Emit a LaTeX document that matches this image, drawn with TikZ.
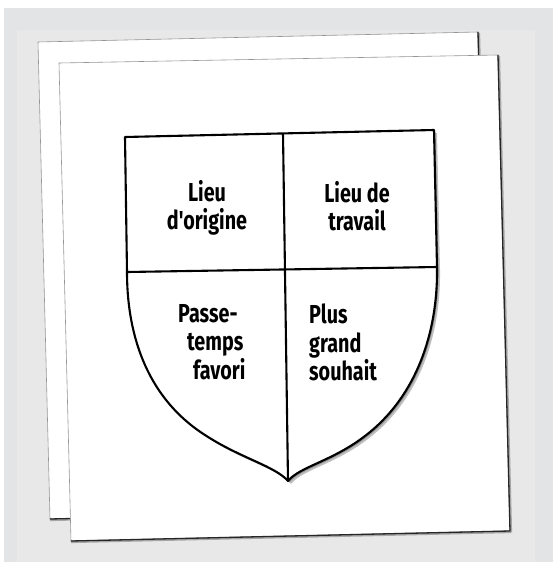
\documentclass[tikz,border=0pt]{standalone}
\usepackage{fontspec}
\newfontfamily\shieldfont[FakeStretch=0.76]{Fira Sans}
\usetikzlibrary{shadows}
\definecolor{bgouter}{RGB}{227,228,229}
\definecolor{bginner}{RGB}{232,232,233}
\definecolor{sheetline}{RGB}{150,150,150}
\tikzset{
	sheet/.style={fill=white, draw=sheetline, line width=0.6pt},
	sheetshade/.style={line width=2.6pt, black!35, line join=round},
	sheetedge/.style={line width=1.3pt, black!85, line join=round},
	shieldline/.style={line width=2.1pt, line join=round},
	field/.style={font=\shieldfont\bfseries\fontsize{26}{28.5}\selectfont, inner sep=0pt}
}
\begin{document}
\begin{tikzpicture}[x=1pt,y=-1pt]
		\useasboundingbox (0,0) rectangle (553,562);
		
		% Background
		\fill[white] (0,0) rectangle (553,562);
		\fill[bgouter] (4,8) rectangle (553,562);
		\fill[bginner] (17,30) rectangle (535,562);
		
		% Back sheet
		\draw[sheet] (38,42) -- (478,32) -- (490,509) -- (50,519) -- cycle;
		\draw[sheetshade] (478.8,33) -- (490.8,509.8) -- (50,519.8);
		\draw[sheetedge] (478,32) -- (490,509) -- (50,519);
		
		% Front sheet
		\draw[sheet] (59,63) -- (498,55) -- (510,531) -- (71,541) -- cycle;
		\draw[sheetshade] (498.8,56) -- (510.8,531.8) -- (71,541.8);
		\draw[sheetedge] (498,55) -- (510,531) -- (71,541);
		
		% Shield outline
		\coordinate (tl) at (125,137);
		\coordinate (tr) at (434,130);
		\coordinate (tm) at (283,133.5);
		\coordinate (lm) at (127,272);
		\coordinate (rm) at (437,267);
		\coordinate (tip) at (288,481);
		\fill[white, drop shadow={shadow xshift=1.5pt, shadow yshift=-1.5pt, opacity=0.25, fill=black},
		drop shadow={shadow xshift=3pt, shadow yshift=-3pt, opacity=0.25, fill=black}]
		(tl) -- (tr) -- (rm) .. controls (438,335) and (415,395) .. (370,432)
		.. controls (335,461) and (300,466) .. (tip)
		.. controls (275,466) and (240,458) .. (205,435)
		.. controls (150,400) and (127,340) .. (lm) -- cycle;
		\draw[shieldline]
		(tl) -- (tr) -- (rm) .. controls (438,335) and (415,395) .. (370,432)
		.. controls (335,461) and (300,466) .. (tip)
		.. controls (275,466) and (240,458) .. (205,435)
		.. controls (150,400) and (127,340) .. (lm) -- cycle;
		
		% Dividers
		\draw[shieldline] (lm) -- (rm);
		\draw[shieldline] (tm) -- (tip);
		
		% Fields
		\node[field, align=center] (origine) at (207,208) {Lieu\\d'origine};
		\node[field, align=center] (travail) at (357,206) {Lieu de\\travail};
		\node[field, align=left, anchor=north west] (loisir) at (178,304)
		{Passe-\\\hspace{9pt}temps\\\hspace{15pt}favori};
		\node[field, align=left, anchor=north west] (souhait) at (309,304)
		{Plus\\grand\\souhait};
		
	\end{tikzpicture}
\end{document}
